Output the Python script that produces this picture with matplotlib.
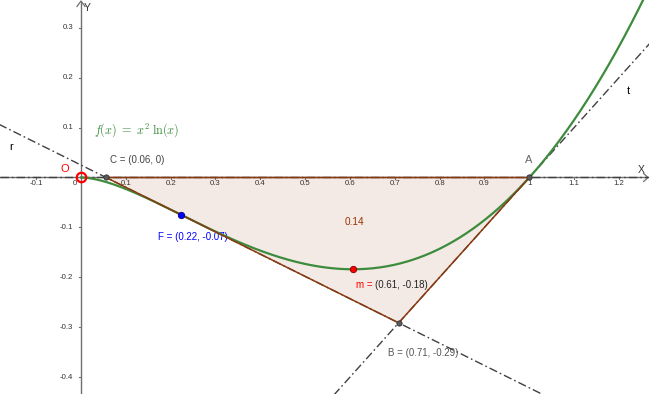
import numpy as np
import matplotlib
matplotlib.use('Agg')
import matplotlib.pyplot as plt
from matplotlib.patches import Polygon

plt.rcParams['font.family'] = ['Liberation Sans', 'DejaVu Sans']
plt.rcParams['mathtext.fontset'] = 'cm'
plt.rcParams['lines.scale_dashes'] = False

# ---- data ----
point_names = ['O', 'C', 'A', 'B', 'F', 'm']
point_x = [0.0, 0.0558, 1.0, 0.7086, 0.2231, 0.6065]
point_y = [0.0, 0.0, 0.0, -0.2914, -0.0747, -0.1839]
point_labels = ['O', 'C = (0.06, 0)', 'A', 'B = (0.71, -0.29)', 'F = (0.22, -0.07)', 'm = (0.61, -0.18)']
area_label = '0.14'
xtick_vals = [-0.1, 0.1, 0.2, 0.3, 0.4, 0.5, 0.6, 0.7, 0.8, 0.9, 1.0, 1.1, 1.2]
xtick_labels = ['-0.1', '0.1', '0.2', '0.3', '0.4', '0.5', '0.6', '0.7', '0.8', '0.9', '1', '1.1', '1.2']
ytick_vals = [-0.4, -0.3, -0.2, -0.1, 0.1, 0.2, 0.3]
ytick_labels = ['-0.4', '-0.3', '-0.2', '-0.1', '0.1', '0.2', '0.3']

P = dict(zip(point_names, zip(point_x, point_y)))

XMIN, XMAX = -0.1807, 1.267
YMIN, YMAX = -0.4339, 0.3557

fig = plt.figure(figsize=(6.49, 3.94), dpi=100)
ax = fig.add_axes([0, 0, 1, 1])
ax.set_xlim(XMIN, XMAX)
ax.set_ylim(YMIN, YMAX)
ax.axis('off')

axis_col = '#707070'
tick_col = '#333333'
# axes lines
ax.plot([XMIN, XMAX - 0.004], [0, 0], color=axis_col, lw=1.0, zorder=1)
ax.plot([0, 0], [YMIN, YMAX - 0.004], color=axis_col, lw=1.0, zorder=1)
# arrows
ax.plot([XMAX - 0.012, XMAX - 0.002, XMAX - 0.012], [0.008, 0, -0.008], color=axis_col, lw=0.9, zorder=1)
ax.plot([-0.009, 0, 0.009], [YMAX - 0.013, YMAX - 0.002, YMAX - 0.013], color=axis_col, lw=0.9, zorder=1)
ax.text(XMAX - 0.018, 0.005, 'X', fontsize=7.5, color='#333333', ha='center', va='bottom')
ax.text(0.014, YMAX - 0.017, 'Y', fontsize=7.5, color='#333333', ha='center', va='center')

# tick labels
for v, s in zip(xtick_vals, xtick_labels):
    ax.plot([v, v], [0, -0.004], color=axis_col, lw=0.8, zorder=1)
    ax.text(v, -0.013, s, fontsize=5.6, color=tick_col, ha='center', va='center')
for v, s in zip(ytick_vals, ytick_labels):
    ax.plot([0, -0.004], [v, v], color=axis_col, lw=0.8, zorder=1)
    ax.text(-0.017, v, s, fontsize=5.6, color=tick_col, ha='right', va='center')
ax.text(-0.014, -0.012, '0', fontsize=5.6, color=tick_col, ha='center', va='center')

# dash-dot line along y = 0
dd = (0, (6, 2.2, 1.2, 2.2))
line_col = '#404040'
xs_full = np.array([XMIN, XMAX])
ax.plot(xs_full, [0, 0], color=line_col, lw=1.0, linestyle=dd, zorder=2)

# tangent lines: r through C and B, t through A and B
def line_through(p, q):
    k = (q[1] - p[1]) / (q[0] - p[0])
    return k, p[1] - k * p[0]

xl = np.array([XMIN - 0.1, XMAX + 0.1])
kr, br = line_through(P['C'], P['B'])
kt, bt = line_through(P['A'], P['B'])
ax.plot(xl, kr * xl + br, color=line_col, lw=1.0, linestyle=dd, zorder=2)
ax.plot(xl, kt * xl + bt, color=line_col, lw=1.0, linestyle=dd, zorder=2)
ax.text(-0.155, 0.061, 'r', fontsize=8, color='black', ha='center', va='center')
ax.text(1.221, 0.173, 't', fontsize=8, color='black', ha='center', va='center')

# polygon C-A-B
poly = Polygon([P['C'], P['A'], P['B']], closed=True, facecolor='#993300', alpha=0.1,
               edgecolor='none', zorder=3)
ax.add_patch(poly)
ax.add_patch(Polygon([P['C'], P['A'], P['B']], closed=True, facecolor='none',
                     edgecolor='#8a3a10', lw=1.1, zorder=5))
ax.text(0.588, -0.0902, area_label, fontsize=7.2, color='#993300', ha='left', va='center')

# function curve
xc = np.linspace(1e-6, 1.32, 800)
ax.plot(xc, xc ** 2 * np.log(xc), color='#3d8b3d', lw=1.6, zorder=4)
ax.text(0.030, 0.094, r'$f(x)\;=\;x^2\;\ln(x)$', fontsize=8.8, color='#3d8b3d',
        ha='left', va='center')

# points
ax.plot(*P['O'], marker='o', ms=6.8, mfc='none', mec='#ff0000', mew=1.6, zorder=7)
for n in ['C', 'A', 'B']:
    ax.plot(*P[n], marker='o', ms=3.8, mfc='#5a5a5a', mec='#333333', mew=0.6, zorder=7)
ax.plot(*P['F'], marker='o', ms=4.6, mfc='#0000ff', mec='#00007f', mew=0.6, zorder=7)
ax.plot(*P['m'], marker='o', ms=4.6, mfc='#ff0000', mec='#7f0000', mew=0.6, zorder=7)

lab_fs = 7.0
ax.text(-0.036, 0.017, 'O', fontsize=8, color='#ff0000', ha='center', va='center')
ax.text(0.065, 0.035, point_labels[1], fontsize=lab_fs, color='#444444', ha='left', va='center')
ax.text(0.999, 0.035, point_labels[2], fontsize=8, color='#666666', ha='center', va='center')
ax.text(0.685, -0.3515, point_labels[3], fontsize=lab_fs, color='#555555', ha='left', va='center')
ax.text(0.172, -0.1195, point_labels[4], fontsize=lab_fs, color='#0000ff', ha='left', va='center')
# m label: name in red, coordinates dark
t1 = ax.text(0.613, -0.2155, 'm = ', fontsize=lab_fs, color='#ff0000', ha='left', va='center')
fig.canvas.draw()
bb = t1.get_window_extent()
x_end = ax.transData.inverted().transform((bb.x1, bb.y0))[0]
ax.text(x_end, -0.2155, '(0.61, -0.18)', fontsize=lab_fs, color='#222222', ha='left', va='center')

fig.savefig('out.png', dpi=100)
